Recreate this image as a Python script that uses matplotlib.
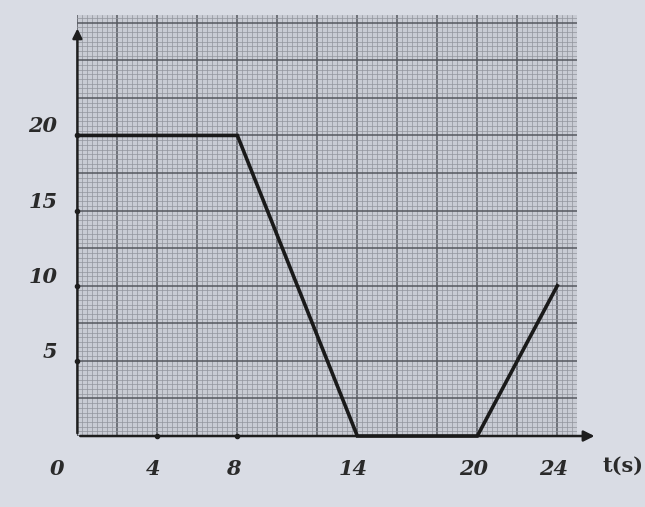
import matplotlib.pyplot as plt
import numpy as np

# v-t graph
t = [0, 8, 14, 20, 24]
v = [20, 20, 0, 0, 10]

x_labels = [0, 4, 8, 14, 20, 24]
y_labels = [5, 10, 15, 20]

fig = plt.figure(figsize=(6.45, 5.07), dpi=100)
fig.patch.set_facecolor('#d9dce4')
ax = fig.add_axes([0.12, 0.14, 0.775, 0.83])
ax.set_facecolor('#c9ccd4')

ax.set_xlim(0, 25)
ax.set_ylim(0, 28)

# graph paper
ax.set_xticks(np.arange(0, 25.01, 2))
ax.set_yticks(np.arange(0, 28.01, 2.5))
ax.set_xticks(np.arange(0, 25.01, 0.25), minor=True)
ax.set_yticks(np.arange(0, 28.01, 0.3125), minor=True)
ax.grid(which='minor', color='#92959d', lw=0.5)
ax.grid(which='major', color='#55585f', lw=1.1)
ax.set_axisbelow(True)
ax.tick_params(which='both', length=0, labelbottom=False, labelleft=False)
for s in ax.spines.values():
    s.set_visible(False)

# axes with arrows
ax.annotate('', xy=(0, 27.3), xytext=(0, 0), xycoords='data',
            arrowprops=dict(arrowstyle='-|>', color='#1e1e1e', lw=1.8,
                            mutation_scale=14), annotation_clip=False)
ax.annotate('', xy=(26.0, 0), xytext=(0, 0), xycoords='data',
            arrowprops=dict(arrowstyle='-|>', color='#1e1e1e', lw=1.8,
                            mutation_scale=16), annotation_clip=False)

ax.plot(t, v, color='#1a1a1a', lw=2.6, solid_joinstyle='miter', clip_on=False, zorder=5)

font = dict(family='DejaVu Serif', fontweight='bold', fontstyle='italic',
            fontsize=15, color='#2a2a2a')
for yl in y_labels:
    ax.plot(0, yl, 'o', ms=3, color='#1e1e1e', clip_on=False)
    ax.text(-1.0, yl + 0.6, str(yl), ha='right', va='center', clip_on=False, **font)
for xl in x_labels:
    if xl in (4, 8):
        ax.plot(xl, 0, 'o', ms=3, color='#1e1e1e', clip_on=False)
    ax.text(xl - 0.2 if xl else -1.0, -2.2, str(xl), ha='center', va='center',
            clip_on=False, **font)
ax.text(27.3, -2.0, 't(s)', ha='center', va='center', clip_on=False,
        family='DejaVu Serif', fontweight='bold', fontsize=15, color='#2a2a2a')

fig.savefig('out.png', dpi=100, facecolor=fig.get_facecolor())
